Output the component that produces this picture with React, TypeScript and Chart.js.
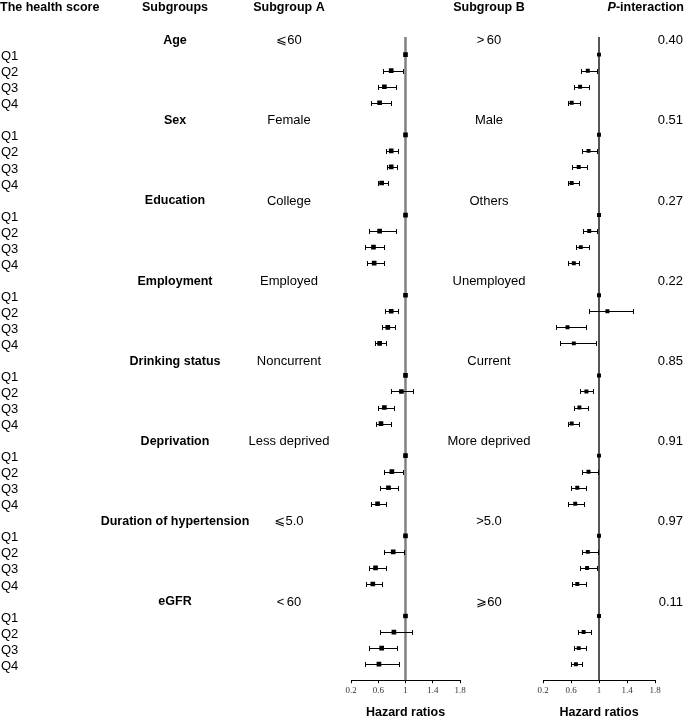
import { useEffect, useRef } from "react";
import { Chart, registerables } from "chart.js";

Chart.register(...registerables);

const GROUPS = [
  "Age",
  "Sex",
  "Education",
  "Employment",
  "Drinking status",
  "Deprivation",
  "Duration of hypertension",
  "eGFR",
];
const SUBGROUP_A = ["⩽60", "Female", "College", "Employed", "Noncurrent", "Less deprived", "⩽5.0", "<\u200960"];
const SUBGROUP_B = [">\u200960", "Male", "Others", "Unemployed", "Current", "More deprived", ">5.0", "⩾60"];
const P_INTERACTION = ["0.40", "0.51", "0.27", "0.22", "0.85", "0.91", "0.97", "0.11"];
const QUARTILES = ["Q1", "Q2", "Q3", "Q4"];
const X_TICKS = [0.2, 0.6, 1, 1.4, 1.8];

// Subgroup A: hazard ratios and 95% CI (Q1 = reference)
const HR_A = [
  [1, 0.79, 0.69, 0.62],
  [1, 0.79, 0.79, 0.65],
  [1, 0.62, 0.53, 0.54],
  [1, 0.79, 0.74, 0.62],
  [1, 0.94, 0.69, 0.64],
  [1, 0.8, 0.75, 0.59],
  [1, 0.82, 0.56, 0.52],
  [1, 0.83, 0.65, 0.61],
];
const LO_A = [
  [null, 0.67, 0.59, 0.5],
  [null, 0.71, 0.73, 0.59],
  [null, 0.47, 0.41, 0.43],
  [null, 0.7, 0.66, 0.55],
  [null, 0.78, 0.6, 0.56],
  [null, 0.69, 0.63, 0.5],
  [null, 0.69, 0.46, 0.42],
  [null, 0.62, 0.46, 0.41],
];
const HI_A = [
  [null, 0.96, 0.86, 0.79],
  [null, 0.89, 0.88, 0.75],
  [null, 0.86, 0.68, 0.69],
  [null, 0.89, 0.84, 0.71],
  [null, 1.11, 0.83, 0.78],
  [null, 0.96, 0.89, 0.71],
  [null, 0.98, 0.71, 0.65],
  [null, 1.1, 0.87, 0.9],
];

// Subgroup B
const HR_B = [
  [1, 0.84, 0.73, 0.61],
  [1, 0.85, 0.71, 0.61],
  [1, 0.86, 0.74, 0.64],
  [1, 1.12, 0.55, 0.64],
  [1, 0.82, 0.72, 0.61],
  [1, 0.85, 0.69, 0.66],
  [1, 0.84, 0.83, 0.69],
  [1, 0.78, 0.71, 0.67],
];
const LO_B = [
  [null, 0.74, 0.64, 0.55],
  [null, 0.75, 0.62, 0.55],
  [null, 0.77, 0.67, 0.56],
  [null, 0.86, 0.38, 0.44],
  [null, 0.73, 0.64, 0.55],
  [null, 0.76, 0.6, 0.56],
  [null, 0.75, 0.73, 0.62],
  [null, 0.7, 0.64, 0.6],
];
const HI_B = [
  [null, 0.97, 0.85, 0.73],
  [null, 0.97, 0.83, 0.72],
  [null, 0.97, 0.85, 0.72],
  [null, 1.48, 0.81, 0.95],
  [null, 0.92, 0.84, 0.71],
  [null, 0.98, 0.81, 0.79],
  [null, 0.98, 0.97, 0.82],
  [null, 0.89, 0.81, 0.76],
];

const SANS = "Arial, 'Liberation Sans', 'DejaVu Sans', sans-serif";
const SERIF = "'Liberation Serif', 'Times New Roman', 'DejaVu Serif', serif";
const BOLD = `bold 12.5px ${SANS}`;
const REG = `13px ${SANS}`;
const ROWS_PER_GROUP = 5;
const Y_MIN = -0.1;
const Y_MAX = 40;
const HEADER_Y = 8;

const rowOf = (g: number, k: number) => g * ROWS_PER_GROUP + 1 + k;

function pointsFrom(hr: number[][]) {
  const pts: { x: number; y: number }[] = [];
  hr.forEach((grp, g) => grp.forEach((v, k) => pts.push({ x: v, y: rowOf(g, k) })));
  return pts;
}

function errorBarPlugin(lo: (number | null)[][], hi: (number | null)[][]) {
  return {
    id: "errorBars",
    afterDatasetDraw(chart: any, args: any) {
      if (args.index !== 1) return;
      const { ctx, scales } = chart;
      const xs = scales.x;
      const ys = scales.y;
      ctx.save();
      ctx.strokeStyle = "#000";
      ctx.lineWidth = 1;
      lo.forEach((grp, g) =>
        grp.forEach((l, k) => {
          const h = hi[g][k];
          if (l == null || h == null) return;
          const py = Math.round(ys.getPixelForValue(rowOf(g, k))) + 0.5;
          const x1 = Math.round(xs.getPixelForValue(l)) + 0.5;
          const x2 = Math.round(xs.getPixelForValue(h)) + 0.5;
          ctx.beginPath();
          ctx.moveTo(x1, py);
          ctx.lineTo(x2, py);
          ctx.moveTo(x1, py - 2.5);
          ctx.lineTo(x1, py + 2.5);
          ctx.moveTo(x2, py - 2.5);
          ctx.lineTo(x2, py + 2.5);
          ctx.stroke();
        })
      );
      ctx.restore();
    },
  };
}

function leftTextPlugin() {
  return {
    id: "leftText",
    afterDraw(chart: any) {
      const { ctx } = chart;
      const ys = chart.scales.y;
      ctx.save();
      ctx.fillStyle = "#000";
      ctx.textBaseline = "middle";
      ctx.font = BOLD;
      ctx.textAlign = "left";
      ctx.fillText("The health score", 0, HEADER_Y);
      ctx.textAlign = "center";
      ctx.fillText("Subgroups", 175, HEADER_Y);
      ctx.fillText("Subgroup A", 289, HEADER_Y);
      GROUPS.forEach((name, g) => {
        const yh = ys.getPixelForValue(g * ROWS_PER_GROUP) + 2;
        ctx.font = BOLD;
        ctx.textAlign = "center";
        ctx.fillText(name, 175, yh);
        ctx.font = REG;
        ctx.fillText(SUBGROUP_A[g], 289, yh);
        ctx.textAlign = "left";
        QUARTILES.forEach((q, k) => {
          ctx.fillText(q, 1, ys.getPixelForValue(rowOf(g, k)) + 2);
        });
      });
      ctx.restore();
    },
  };
}

function rightTextPlugin(ox: number) {
  return {
    id: "rightText",
    afterDraw(chart: any) {
      const { ctx } = chart;
      const ys = chart.scales.y;
      ctx.save();
      ctx.fillStyle = "#000";
      ctx.textBaseline = "middle";
      ctx.font = BOLD;
      ctx.textAlign = "center";
      ctx.fillText("Subgroup B", 489 - ox, HEADER_Y);
      // P-interaction with italic P
      const rest = "-interaction";
      const wRest = ctx.measureText(rest).width;
      ctx.textAlign = "right";
      const right = 684 - ox;
      ctx.fillText(rest, right, HEADER_Y);
      ctx.font = `italic ${BOLD}`;
      ctx.fillText("P", right - wRest, HEADER_Y);
      ctx.font = REG;
      GROUPS.forEach((_, g) => {
        const yh = ys.getPixelForValue(g * ROWS_PER_GROUP) + 2;
        ctx.textAlign = "center";
        ctx.fillText(SUBGROUP_B[g], 489 - ox, yh);
        ctx.textAlign = "right";
        ctx.fillText(P_INTERACTION[g], 683 - ox, yh);
      });
      ctx.restore();
    },
  };
}

function makeConfig(
  hr: number[][],
  lineColor: string,
  lineWidth: number,
  pointRadius: number,
  padding: { left: number; right: number },
  plugins: any[]
): any {
  return {
    type: "scatter",
    data: {
      datasets: [
        {
          data: pointsFrom(hr),
          pointStyle: "rect",
          pointRadius,
          pointHoverRadius: pointRadius,
          backgroundColor: "#000",
          borderColor: "#000",
          borderWidth: 0,
        },
        {
          type: "line",
          data: [
            { x: 1, y: Y_MIN },
            { x: 1, y: Y_MAX },
          ],
          showLine: true,
          borderColor: lineColor,
          borderWidth: lineWidth,
          pointRadius: 0,
          fill: false,
        },
      ],
    },
    options: {
      responsive: false,
      animation: false,
      events: [],
      layout: { padding: { left: padding.left, right: padding.right, top: 37, bottom: 0 } },
      plugins: { legend: { display: false }, tooltip: { enabled: false } },
      scales: {
        x: {
          type: "linear",
          min: 0.2,
          max: 1.8,
          afterBuildTicks: (s: any) => {
            s.ticks = X_TICKS.map((v) => ({ value: v }));
          },
          ticks: {
            callback: (v: any) => `${v}`,
            font: { family: SERIF, size: 9 },
            color: "#333",
            padding: 2,
            maxRotation: 0,
            autoSkip: false,
          },
          grid: { drawOnChartArea: false, drawTicks: true, tickLength: 3, color: "#000", lineWidth: 1 },
          border: { display: true, color: "#000", width: 1 },
          title: {
            display: true,
            text: "Hazard ratios",
            font: { family: SANS, size: 12.5, weight: "bold" },
            color: "#000",
            padding: { top: 7, bottom: 0 },
          },
        },
        y: { type: "linear", display: false, reverse: true, min: Y_MIN, max: Y_MAX },
      },
    },
    plugins,
  };
}

export default function App() {
  const refA = useRef<HTMLCanvasElement | null>(null);
  const refB = useRef<HTMLCanvasElement | null>(null);

  useEffect(() => {
    if (!refA.current || !refB.current) return;
    const chartA = new Chart(
      refA.current,
      makeConfig(HR_A, "#808080", 2.5, 3.3, { left: 351, right: 20 }, [
        errorBarPlugin(LO_A, HI_A),
        leftTextPlugin(),
      ])
    );
    const chartB = new Chart(
      refB.current,
      makeConfig(HR_B, "#555555", 2, 2.8, { left: 213, right: 30 }, [
        errorBarPlugin(LO_B, HI_B),
        rightTextPlugin(330),
      ])
    );
    return () => {
      chartA.destroy();
      chartB.destroy();
    };
  }, []);

  return (
    <div style={{ position: "fixed", left: 0, top: 0, width: 685, height: 720, background: "#fff" }}>
      <canvas
        ref={refA}
        width={480}
        height={720}
        style={{ position: "absolute", left: 0, top: 0, width: 480, height: 720 }}
      />
      <canvas
        ref={refB}
        width={355}
        height={720}
        style={{ position: "absolute", left: 330, top: 0, width: 355, height: 720 }}
      />
    </div>
  );
}
